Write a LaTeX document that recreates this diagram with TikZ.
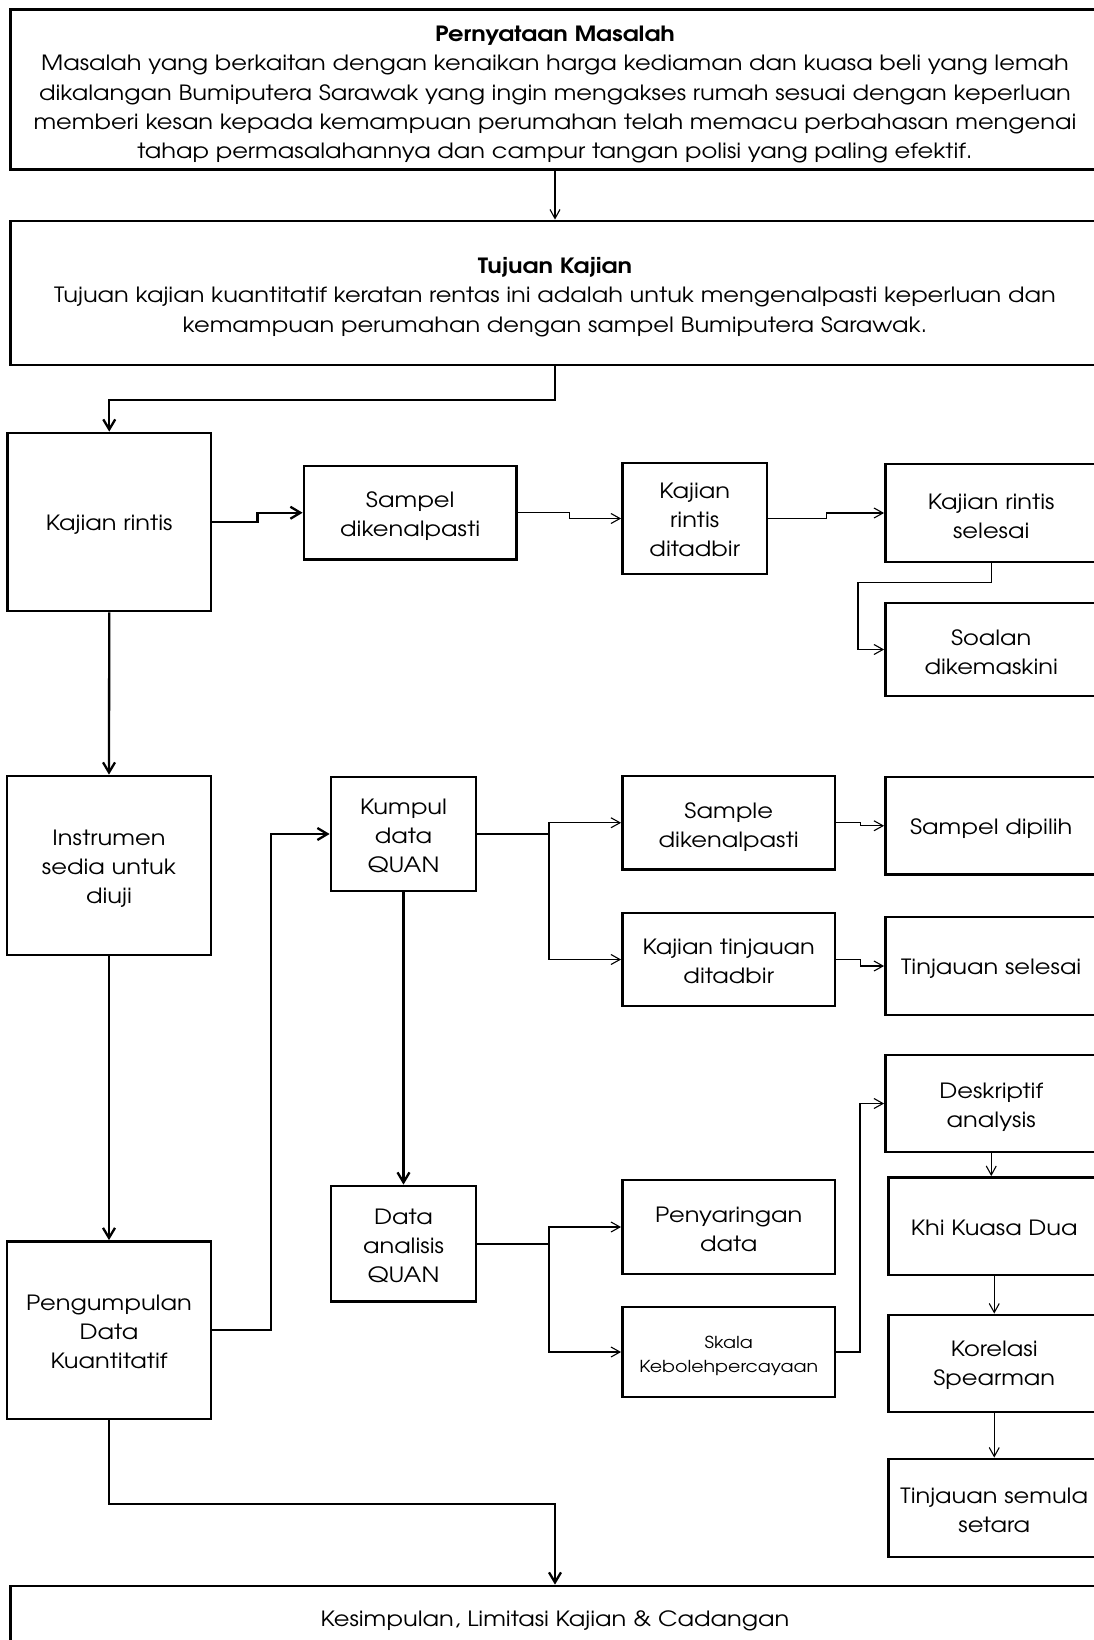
\documentclass[tikz,border=0pt]{standalone}
\usepackage{fontspec}
\setmainfont[FakeStretch=1.15]{TeX Gyre Adventor}
\usetikzlibrary{arrows.meta,calc}
\begin{document}
\begin{tikzpicture}[x=1pt,y=-1pt,
  box/.style={draw, line width=2.8pt, inner sep=0pt},
  txt/.style={inner sep=0pt, align=center, font=\fontsize{21}{29}\selectfont},
  thinar/.style={line width=1.1pt, -{Straight Barb[length=9pt,width=10pt]}},
  thickar/.style={line width=2.3pt, -{Straight Barb[length=10pt,width=12pt]}},
  thinln/.style={line width=1.6pt},
  thickln/.style={line width=2.3pt}]
\useasboundingbox (0,0) rectangle (1094,1640);
\clip (0,0) rectangle (1094,1640);
% boxes
\node[box, minimum width=1089pt, minimum height=160pt] (masalah) at (555,89.5) {};
\node[txt, font=\fontsize{21}{29.3}\selectfont] (tmasalah) at ([yshift=-5pt]masalah.center)
 {{\bfseries Pernyataan Masalah}\\
  Masalah yang berkaitan dengan kenaikan harga kediaman dan kuasa beli yang lemah\\
  dikalangan Bumiputera Sarawak yang ingin mengakses rumah sesuai dengan keperluan\\
  memberi kesan kepada kemampuan perumahan telah memacu perbahasan mengenai\\
  tahap permasalahannya dan campur tangan polisi yang paling efektif.};
\node[box, minimum width=1089pt, minimum height=144pt] (tujuan) at (555,293) {};
\node[txt, font=\fontsize{21}{29.3}\selectfont] (ttujuan) at ([yshift=-4pt]tujuan.center)
 {{\bfseries Tujuan Kajian}\\
  Tujuan kajian kuantitatif keratan rentas ini adalah untuk mengenalpasti keperluan dan\\
  kemampuan perumahan dengan sampel Bumiputera Sarawak.};
\node[box, minimum width=203.5pt, minimum height=178pt] (rintis) at (109.25,522) {};
\node[txt] at ([yshift=-3pt]rintis.center) {Kajian rintis};
\node[box, minimum width=212.5pt, minimum height=93.5pt] (sampel) at (410.25,512.75) {};
\node[txt] at ([yshift=-3pt]sampel.center) {Sampel\\dikenalpasti};
\node[box, minimum width=144.5pt, minimum height=111pt] (ditadbir) at (694.75,518.5) {};
\node[txt] at ([yshift=-1pt]ditadbir.center) {Kajian\\rintis\\ditadbir};
\node[box, minimum width=211.5pt, minimum height=98pt] (selesai) at (991.25,513) {};
\node[txt] at ([yshift=-3pt]selesai.center) {Kajian rintis\\selesai};
\node[box, minimum width=211.5pt, minimum height=93pt] (soalan) at (991.25,649.5) {};
\node[txt] at ([yshift=-3pt]soalan.center) {Soalan\\dikemaskini};
\node[box, minimum width=204pt, minimum height=179pt] (instrumen) at (109,865.5) {};
\node[txt] at ([yshift=-3pt]instrumen.center) {Instrumen\\sedia untuk\\diuji};
\node[box, minimum width=145pt, minimum height=114pt] (kumpul) at (403.5,834) {};
\node[txt] at ([yshift=-2pt]kumpul.center) {Kumpul\\data\\QUAN};
\node[box, minimum width=212.5pt, minimum height=93.5pt] (sampledk) at (728.75,822.75) {};
\node[txt] at ([yshift=-4pt]sampledk.center) {Sample\\dikenalpasti};
\node[box, minimum width=212.5pt, minimum height=93pt] (tinjauan) at (728.75,959.5) {};
\node[txt] at ([yshift=-2pt]tinjauan.center) {Kajian tinjauan\\ditadbir};
\node[box, minimum width=211.5pt, minimum height=97.5pt] (dipilih) at (991.25,825.75) {};
\node[txt] at ([yshift=-3pt]dipilih.center) {Sampel dipilih};
\node[box, minimum width=211.5pt, minimum height=98pt] (tselesai) at (991.25,966) {};
\node[txt] at ([yshift=-3pt]tselesai.center) {Tinjauan selesai};
\node[box, minimum width=145pt, minimum height=115.5pt] (analisis) at (403.5,1243.75) {};
\node[txt] at ([yshift=-2pt]analisis.center) {Data\\analisis\\QUAN};
\node[box, minimum width=212.5pt, minimum height=94pt] (penyaringan) at (728.75,1227) {};
\node[txt] at ([yshift=-2pt]penyaringan.center) {Penyaringan\\data};
\node[box, minimum width=212.5pt, minimum height=90pt] (skala) at (728.75,1352) {};
\node[txt, font=\fontsize{16.5}{24.5}\selectfont] at ([yshift=-4pt]skala.center) {Skala\\Kebolehpercayaan};
\node[box, minimum width=211.5pt, minimum height=97pt] (deskriptif) at (991.25,1103.5) {};
\node[txt] at ([yshift=-4pt]deskriptif.center) {Deskriptif\\analysis};
\node[box, minimum width=211.5pt, minimum height=97.5pt] (khi) at (994.25,1226.25) {};
\node[txt] at ([yshift=-2pt]khi.center) {Khi Kuasa Dua};
\node[box, minimum width=211.5pt, minimum height=97pt] (korelasi) at (994.25,1363.5) {};
\node[txt] at ([yshift=-2pt]korelasi.center) {Korelasi\\Spearman};
\node[box, minimum width=211.5pt, minimum height=98pt] (semula) at (994.25,1508) {};
\node[txt] at ([yshift=-2pt]semula.center) {Tinjauan semula\\setara};
\node[box, minimum width=204pt, minimum height=177.5pt] (pengumpulan) at (109,1330.25) {};
\node[txt] at ([yshift=-2pt]pengumpulan.center) {Pengumpulan\\Data\\Kuantitatif};
\node[box, minimum width=1089pt, minimum height=64pt] (kesimpulan) at (555,1618) {};
\node[txt] at ([yshift=-3pt]kesimpulan.center) {Kesimpulan, Limitasi Kajian \& Cadangan};
% helper coordinates
\coordinate (c1) at (858,582.3);
\coordinate (c2) at (271,1330.25);
\coordinate (j1) at (549,834);
\coordinate (j2) at (549,1243.75);
\coordinate (c3) at (860,1352);
% connectors
\draw[thinar] (masalah.south) -- (tujuan.north);
\draw[thickar] (tujuan.south) -- ++(0,33.5) -| (rintis.north);
\draw[thickar] (rintis.east) -| ($(rintis.east)!0.5!(sampel.west)$) |- (sampel.west);
\draw[thinar] (sampel.east) -| ($(sampel.east)!0.5!(ditadbir.west)$) |- (ditadbir.west);
\draw[thinar] (ditadbir.east) -| ($(ditadbir.east)!0.5!(selesai.west)$) |- (selesai.west);
\draw[thinar] (selesai.south) |- (c1) |- (soalan.west);
\draw[thickar] (rintis.south) -- (instrumen.north);
\draw[thickar] (instrumen.south) -- (pengumpulan.north);
\draw[thickar] (pengumpulan.east) -- (c2) |- (kumpul.west);
\draw[thinln] (kumpul.east) -- (j1);
\draw[thinar] (j1) |- (sampledk.west);
\draw[thinar] (j1) |- (tinjauan.west);
\draw[thinar] (sampledk.east) -| ($(sampledk.east)!0.5!(dipilih.west)$) |- (dipilih.west);
\draw[thinar] (tinjauan.east) -| ($(tinjauan.east)!0.5!(tselesai.west)$) |- (tselesai.west);
\draw[thickar] (kumpul.south) -- (analisis.north);
\draw[thinln] (analisis.east) -- (j2);
\draw[thinar] (j2) |- (penyaringan.west);
\draw[thinar] (j2) |- (skala.west);
\draw[thinar] (skala.east) -- (c3) |- (deskriptif.west);
\draw[thinar] (deskriptif.south) -- (deskriptif.south |- khi.north);
\draw[thinar] (khi.south) -- (korelasi.north);
\draw[thinar] (korelasi.south) -- (semula.north);
\draw[thickar] (pengumpulan.south) -- ++(0,83.5) -| (kesimpulan.north);
\end{tikzpicture}
\end{document}
